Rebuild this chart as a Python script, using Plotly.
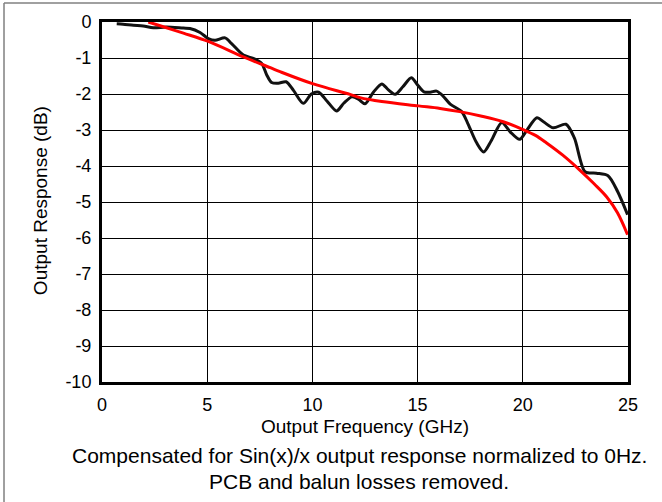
import plotly.graph_objects as go

# Measured output response (black) vs frequency
meas_freq_ghz = [0.70, 1.00, 1.49, 1.96, 2.44, 3.07, 3.87, 4.18, 4.66, 5.05, 5.37, 5.85,
                 6.16, 6.72, 7.19, 7.59, 7.83, 8.06, 8.38, 8.75, 9.10, 9.57, 9.95, 10.30,
                 10.70, 11.15, 11.50, 11.88, 12.20, 12.50, 12.90, 13.30, 13.60, 13.93, 14.30,
                 14.70, 15.00, 15.30, 15.60, 15.90, 16.20, 16.55, 17.10, 17.41, 17.80, 18.14,
                 18.50, 19.00, 19.40, 19.85, 20.20, 20.67, 21.00, 21.45, 22.05, 22.45, 22.96,
                 23.50, 24.05, 24.50, 24.98]
meas_resp_db = [-0.05, -0.06, -0.09, -0.11, -0.16, -0.14, -0.17, -0.18, -0.29, -0.46, -0.51, -0.44,
                -0.60, -0.92, -1.01, -1.15, -1.47, -1.68, -1.70, -1.66, -1.90, -2.26, -2.00, -1.95,
                -2.20, -2.47, -2.25, -2.08, -2.15, -2.27, -1.95, -1.72, -1.88, -2.01, -1.80,
                -1.55, -1.75, -1.94, -1.95, -1.92, -2.05, -2.28, -2.49, -2.85, -3.35, -3.61,
                -3.30, -2.79, -3.05, -3.26, -3.00, -2.66, -2.78, -2.94, -2.84, -3.22, -4.16,
                -4.20, -4.27, -4.70, -5.35]

# Modelled response (red)
model_freq_ghz = [2.20, 3.07, 3.87, 5.05, 6.72, 8.00, 8.46, 10.04, 11.79, 12.26, 13.30, 15.04,
                  16.07, 17.00, 18.00, 19.07, 20.02, 20.60, 21.13, 21.90, 22.72, 23.40, 23.99,
                  24.50, 24.98]
model_resp_db = [0.00, -0.16, -0.31, -0.54, -0.97, -1.27, -1.38, -1.72, -2.01, -2.10, -2.21, -2.33,
                 -2.40, -2.49, -2.61, -2.77, -2.99, -3.15, -3.36, -3.70, -4.12, -4.50, -4.86,
                 -5.30, -5.91]

x_ticks = [0, 5, 10, 15, 20, 25]
x_tick_labels = ["0", "5", "10", "15", "20", "25"]
y_ticks = [0, -1, -2, -3, -4, -5, -6, -7, -8, -9, -10]
y_tick_labels = ["0", "-1", "-2", "-3", "-4", "-5", "-6", "-7", "-8", "-9", "-10"]

x_title = "Output Frequency (GHz)"
y_title = "Output Response (dB)"
note_lines = ["Compensated for Sin(x)/x output response normalized to 0Hz.",
              "PCB and balun losses removed."]

FONT = "Liberation Sans, Arial, sans-serif"

fig = go.Figure()
fig.add_trace(go.Scatter(x=meas_freq_ghz, y=meas_resp_db, mode="lines",
                         line=dict(color="#111111", width=3, shape="spline", smoothing=0.8),
                         showlegend=False))
fig.add_trace(go.Scatter(x=model_freq_ghz, y=model_resp_db, mode="lines",
                         line=dict(color="#ff0000", width=3, shape="spline", smoothing=1.0),
                         showlegend=False))

axis_common = dict(showline=True, linewidth=3, linecolor="black", mirror=True,
                   showgrid=True, gridcolor="black", gridwidth=1, zeroline=False,
                   ticks="outside", tickcolor="rgba(0,0,0,0)",
                   tickfont=dict(family=FONT, size=18, color="black"))

fig.update_xaxes(range=[0, 25], tickvals=x_ticks, ticktext=x_tick_labels, ticklen=4,
                 **axis_common)
fig.update_yaxes(range=[-10, 0], tickvals=y_ticks, ticktext=y_tick_labels, ticklen=4,
                 **axis_common)

annotations = [
    dict(text=x_title, x=0.5, y=-0.124, xref="paper", yref="paper",
         xanchor="center", yanchor="middle", showarrow=False,
         font=dict(family=FONT, size=19, color="black")),
    dict(text=y_title, x=-0.118, y=0.505, xref="paper", yref="paper", textangle=-90,
         xanchor="center", yanchor="middle", showarrow=False,
         font=dict(family=FONT, size=19, color="black")),
    dict(text=note_lines[0], x=0.4895, y=-0.205, xref="paper", yref="paper",
         xanchor="center", yanchor="middle", showarrow=False,
         font=dict(family=FONT, size=21, color="black")),
    dict(text=note_lines[1], x=0.4895, y=-0.277, xref="paper", yref="paper",
         xanchor="center", yanchor="middle", showarrow=False,
         font=dict(family=FONT, size=21, color="black")),
]

# Outer frame edges (top and left)
shapes = [
    dict(type="line", xref="paper", yref="paper", x0=-0.1863, x1=1.07, y0=1.0525, y1=1.0525,
         line=dict(color="#808080", width=1.5)),
    dict(type="line", xref="paper", yref="paper", x0=-0.1863, x1=-0.1863, y0=1.0525, y1=-0.34,
         line=dict(color="#808080", width=1.5)),
]

fig.update_layout(width=662, height=502, autosize=False,
                  margin=dict(l=102, r=34, t=20, b=120),
                  paper_bgcolor="white", plot_bgcolor="white",
                  annotations=annotations, shapes=shapes,
                  font=dict(family=FONT, color="black"))

fig.write_html("out.html")
